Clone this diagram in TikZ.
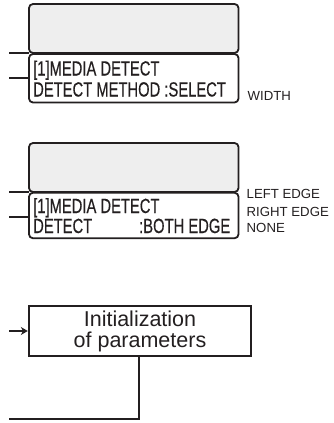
\documentclass[tikz,border=0pt]{standalone}
\usepackage{fontspec}
\setmainfont{Liberation Sans}
\newfontfamily\lcdfont[FakeStretch=0.72,FakeBold=0.4]{Liberation Sans}
\usetikzlibrary{arrows.meta}
\definecolor{ink}{HTML}{231F20}
\definecolor{lcdgray}{HTML}{EEEEEE}
\tikzset{
  lcdtop/.style={draw=ink, fill=lcdgray, line width=1.8pt, rounded corners=4pt, minimum width=209.5pt, inner sep=0pt, outer sep=0pt},
  lcdbot/.style={draw=ink, fill=white, line width=1.8pt, rounded corners=4pt, minimum width=209.5pt, inner sep=0pt, outer sep=0pt},
  lcdtext/.style={font=\lcdfont\fontsize{20.5}{20.5}\selectfont, anchor=base west, inner sep=0pt, text=ink},
  optlabel/.style={font=\fontsize{13.2}{13.2}\selectfont, anchor=base west, inner sep=0pt, text=ink},
  wire/.style={draw=ink, line width=1.5pt},
  procbox/.style={draw=ink, line width=2.4pt, minimum width=222pt, minimum height=50pt, align=center, font=\fontsize{21.5}{21}\selectfont, inner sep=0pt, text=ink}
}
\begin{document}
\begin{tikzpicture}[x=1pt,y=-1pt]
\useasboundingbox (0,0) rectangle (333,423);
% panel 1
\node[lcdtop, minimum height=49pt] (p1top) at (133.75,28.5) {};
\node[lcdbot, minimum height=48.5pt] (p1bot) at (133.75,78.25) {};
\node[lcdtext] (p1l1) at (33,75.5) {[1]MEDIA DETECT};
\node[lcdtext] (p1l2) at (33,96.5) {DETECT METHOD :SELECT};
\node[optlabel] (p1o1) at (247.5,100.5) {WIDTH};
\coordinate (a1) at (9,53);
\coordinate (a2) at (9,78);
\draw[wire] (a1) -- (a1 -| p1top.west);
\draw[wire] (a2) -- (a2 -| p1bot.west);
% panel 2
\node[lcdtop, minimum height=49pt] (p2top) at (133.75,167.5) {};
\node[lcdbot, minimum height=45.5pt] (p2bot) at (133.75,215.5) {};
\node[lcdtext] (p2l1) at (33,213) {[1]MEDIA DETECT};
\node[lcdtext] (p2l2) at (33,233) {\makebox[197pt][l]{DETECT\hfill:BOTH EDGE}};
\node[optlabel] (p2o1) at (246.5,198) {LEFT EDGE};
\node[optlabel] (p2o2) at (246.5,216) {RIGHT EDGE};
\node[optlabel] (p2o3) at (246.5,232.5) {NONE};
\coordinate (b1) at (9,192);
\coordinate (b2) at (9,217);
\draw[wire] (b1) -- (b1 -| p2top.west);
\draw[wire] (b2) -- (b2 -| p2bot.west);
% panel 3
\node[procbox] (proc) at (140,331) {Initialization\\of parameters};
\coordinate (cin) at (9,331);
\coordinate (turn) at (139,419);
\coordinate (cout) at (9,419);
\draw[wire,-{Stealth[length=7pt,width=8pt]}] (cin) -- (proc.west);
\draw[wire] (proc.south -| turn) -- (turn) -- (cout);
\end{tikzpicture}
\end{document}
